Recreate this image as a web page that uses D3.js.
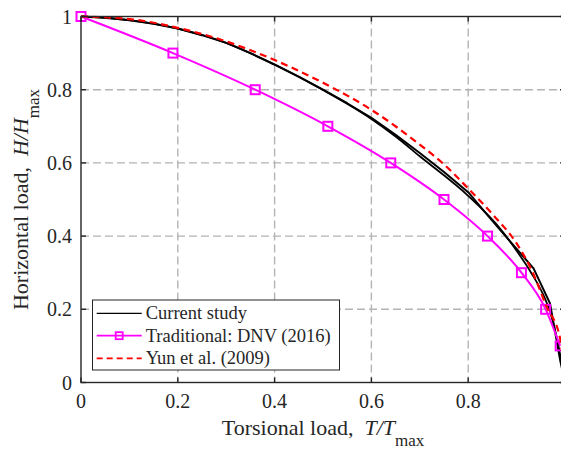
<!DOCTYPE html>
<html>
<head>
<meta charset="utf-8">
<script src="https://cdn.jsdelivr.net/npm/d3@7"></script>
<style>
  html, body { margin: 0; padding: 0; background: #fff; }
  svg { display: block; }
  text { font-family: "Liberation Serif", "Times New Roman", Times, serif; fill: #262626; }
</style>
</head>
<body>
<svg id="chart" width="561" height="450"></svg>
<script>
// Interaction envelopes: horizontal load vs torsional load (both normalised)
const xTickValues = [0, 0.2, 0.4, 0.6, 0.8, 1];
const xTickLabels = ["0", "0.2", "0.4", "0.6", "0.8", ""];
const yTickValues = [0, 0.2, 0.4, 0.6, 0.8, 1];
const yTickLabels = ["0", "0.2", "0.4", "0.6", "0.8", "1"];

// Current study (two envelopes, plotted in the same style)
const currentT1 = [0, 0.05, 0.1, 0.15, 0.2, 0.25, 0.3, 0.35, 0.4, 0.45, 0.5, 0.55, 0.6, 0.65, 0.7, 0.75, 0.8, 0.835, 0.866, 0.935, 0.969, 0.99, 1];
const currentH1 = [1, 0.997, 0.99, 0.98, 0.967, 0.949, 0.928, 0.9, 0.869, 0.836, 0.8, 0.763, 0.723, 0.677, 0.627, 0.575, 0.52, 0.465, 0.417, 0.312, 0.216, 0.061, 0];
const currentT2 = [0, 0.1, 0.2, 0.3, 0.4, 0.5, 0.6, 0.65, 0.7, 0.8, 0.86, 0.9, 0.93, 0.955, 0.97, 0.985, 1];
const currentH2 = [1, 0.99, 0.967, 0.928, 0.868, 0.799, 0.72, 0.672, 0.618, 0.51, 0.43, 0.36, 0.3, 0.24, 0.19, 0.11, 0];

// Traditional: DNV (2016)
const dnvT = [0, 0.19, 0.36, 0.51, 0.64, 0.75, 0.84, 0.91, 0.96, 0.99];
const dnvH = [1, 0.9, 0.8, 0.7, 0.6, 0.5, 0.4, 0.3, 0.2, 0.1];

// Yun et al. (2009)
const yunT = [0, 0.1, 0.2, 0.3, 0.4, 0.5, 0.6, 0.7, 0.75, 0.8, 0.85, 0.9, 0.93, 0.962, 0.99, 1];
const yunH = [1, 0.993, 0.969, 0.932, 0.881, 0.819, 0.745, 0.65, 0.596, 0.53, 0.46, 0.38, 0.31, 0.207, 0.12, 0];

const legendLabels = ["Current study", "Traditional: DNV (2016)", "Yun et al. (2009)"];

const svg = d3.select("#chart");
const pL = 81, pR = 565, pT = 16.5, pB = 382.5;
const axisColor = "#262626";

const x = d3.scaleLinear().domain([0, 1]).range([pL, pR]);
const y = d3.scaleLinear().domain([0, 1]).range([pB, pT]);

const zip = (a, b) => a.map((v, i) => [v, b[i]]);

// grid
const grid = svg.append("g");
grid.selectAll("line.gx").data(xTickValues.filter(v => v > 0 && v < 1)).enter().append("line")
  .attr("x1", d => x(d)).attr("x2", d => x(d)).attr("y1", pT).attr("y2", pB)
  .attr("stroke", "#b3b3b3").attr("stroke-width", 1.4).attr("stroke-dasharray", "8,4");
grid.selectAll("line.gy").data(yTickValues.filter(v => v > 0 && v < 1)).enter().append("line")
  .attr("y1", d => y(d)).attr("y2", d => y(d)).attr("x1", pL).attr("x2", pR)
  .attr("stroke", "#b3b3b3").attr("stroke-width", 1.4).attr("stroke-dasharray", "8,4");

// data lines
const plot = svg.append("g");
const lineLinear = d3.line().x(d => x(d[0])).y(d => y(d[1]));
const lineSmooth = d3.line().x(d => x(d[0])).y(d => y(d[1])).curve(d3.curveMonotoneX);

plot.append("path").datum(zip(currentT1, currentH1)).attr("d", lineLinear)
  .attr("fill", "none").attr("stroke", "#000").attr("stroke-width", 2).attr("stroke-linejoin", "round");
plot.append("path").datum(zip(currentT2, currentH2)).attr("d", lineSmooth)
  .attr("fill", "none").attr("stroke", "#000").attr("stroke-width", 1.8);

const dnv = zip(dnvT, dnvH);
plot.append("path").datum(dnv).attr("d", lineSmooth)
  .attr("fill", "none").attr("stroke", "#ff00ff").attr("stroke-width", 2);
const ms = 9;
plot.selectAll("rect.m").data(dnv).enter().append("rect")
  .attr("x", d => x(d[0]) - ms / 2).attr("y", d => y(d[1]) - ms / 2)
  .attr("width", ms).attr("height", ms)
  .attr("fill", "none").attr("stroke", "#ff00ff").attr("stroke-width", 2);

plot.append("path").datum(zip(yunT, yunH)).attr("d", lineSmooth)
  .attr("fill", "none").attr("stroke", "#ff0000").attr("stroke-width", 2.2).attr("stroke-dasharray", "7,4.5");

// axes box with inward ticks
const axes = svg.append("g");
const tl = 5;
axes.append("rect").attr("x", pL).attr("y", pT).attr("width", pR - pL).attr("height", pB - pT)
  .attr("fill", "none").attr("stroke", axisColor).attr("stroke-width", 1.4);
xTickValues.forEach(v => {
  axes.append("line").attr("x1", x(v)).attr("x2", x(v)).attr("y1", pB).attr("y2", pB - tl)
    .attr("stroke", axisColor).attr("stroke-width", 1.4);
  axes.append("line").attr("x1", x(v)).attr("x2", x(v)).attr("y1", pT).attr("y2", pT + tl)
    .attr("stroke", axisColor).attr("stroke-width", 1.4);
});
yTickValues.forEach(v => {
  axes.append("line").attr("x1", pL).attr("x2", pL + tl).attr("y1", y(v)).attr("y2", y(v))
    .attr("stroke", axisColor).attr("stroke-width", 1.4);
  axes.append("line").attr("x1", pR).attr("x2", pR - tl).attr("y1", y(v)).attr("y2", y(v))
    .attr("stroke", axisColor).attr("stroke-width", 1.4);
});

axes.selectAll("text.xt").data(xTickValues).enter().append("text")
  .attr("x", d => x(d)).attr("y", pB + 25.5).attr("text-anchor", "middle")
  .style("font-size", "20px").text((d, i) => xTickLabels[i]);
axes.selectAll("text.yt").data(yTickValues).enter().append("text")
  .attr("x", pL - 9).attr("y", d => y(d) + 7).attr("text-anchor", "end")
  .style("font-size", "20px").text((d, i) => yTickLabels[i]);

// axis titles
const xt = svg.append("text").attr("x", (pL + pR) / 2).attr("y", 435)
  .attr("text-anchor", "middle").style("font-size", "22px");
xt.append("tspan").text("Torsional load,\u00a0\u00a0");
xt.append("tspan").style("font-style", "italic").text("T/T");
xt.append("tspan").attr("dy", 11).style("font-size", "17px").text("max");

const yt = svg.append("text").attr("transform", `translate(28,${(pT + pB) / 2}) rotate(-90)`)
  .attr("text-anchor", "middle").style("font-size", "22px");
yt.append("tspan").text("Horizontal load,\u00a0\u00a0");
yt.append("tspan").style("font-style", "italic").text("H/H");
yt.append("tspan").attr("dy", 11).style("font-size", "17px").text("max");

// legend
const lg = svg.append("g");
lg.append("rect").attr("x", 92.5).attr("y", 300).attr("width", 247).attr("height", 70)
  .attr("fill", "#fff").attr("stroke", axisColor).attr("stroke-width", 1);
const rows = [313.3, 335.7, 358.3];
const lx1 = 96.7, lx2 = 141.7;
lg.append("line").attr("x1", lx1).attr("x2", lx2).attr("y1", rows[0]).attr("y2", rows[0])
  .attr("stroke", "#000").attr("stroke-width", 1.2);
lg.append("line").attr("x1", lx1).attr("x2", lx2).attr("y1", rows[1]).attr("y2", rows[1])
  .attr("stroke", "#ff00ff").attr("stroke-width", 1.8);
lg.append("rect").attr("x", (lx1 + lx2) / 2 - 3.5).attr("y", rows[1] - 3.5).attr("width", 7).attr("height", 7)
  .attr("fill", "none").attr("stroke", "#ff00ff").attr("stroke-width", 1.8);
lg.append("line").attr("x1", lx1).attr("x2", lx2).attr("y1", rows[2]).attr("y2", rows[2])
  .attr("stroke", "#ff0000").attr("stroke-width", 1.8).attr("stroke-dasharray", "6,4");
lg.selectAll("text.lg").data(legendLabels).enter().append("text")
  .attr("x", 145.7).attr("y", (d, i) => rows[i] + 6).style("font-size", "18.5px").text(d => d);
</script>
</body>
</html>
